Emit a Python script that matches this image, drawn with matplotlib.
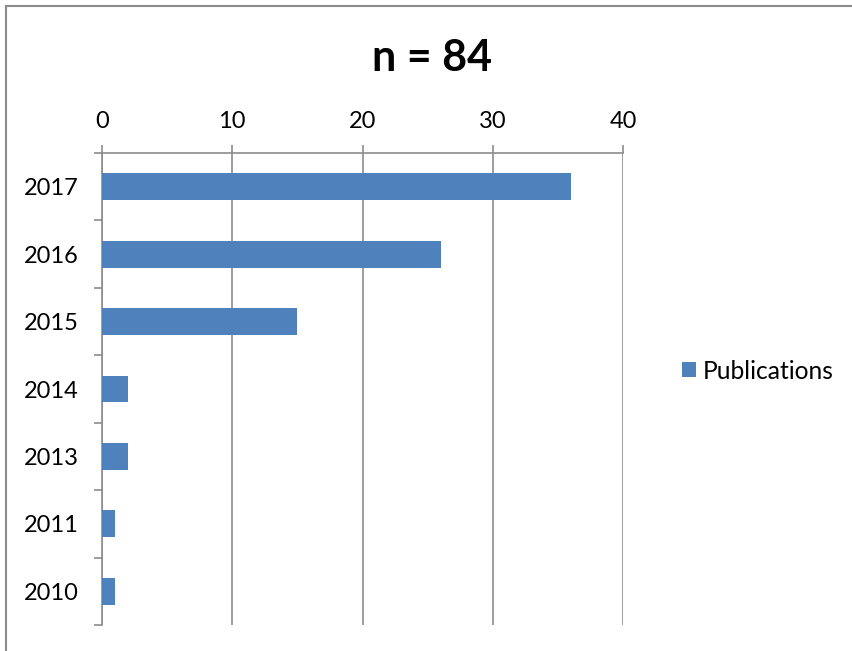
import matplotlib
matplotlib.use("Agg")
import matplotlib.pyplot as plt
from matplotlib.lines import Line2D

years = ["2017", "2016", "2015", "2014", "2013", "2011", "2010"]
publications = [36, 26, 15, 2, 2, 1, 1]
xticks = [0, 10, 20, 30, 40]

plt.rcParams['font.family'] = ['Lato', 'DejaVu Sans']
fig = plt.figure(figsize=(8.52, 6.51), dpi=100)
bx, by = 6/852, 1 - 5.5/651
fig.lines.append(Line2D([bx, 1.0], [by, by], transform=fig.transFigure, color='#8c8c8c', linewidth=1.5))
fig.lines.append(Line2D([bx, bx], [0.0, by], transform=fig.transFigure, color='#8c8c8c', linewidth=1.5))

ax = fig.add_axes([102/852, 26/651, 521/852, 472/651])
ypos = list(range(len(years)))[::-1]
ax.barh(ypos, publications, height=0.4, color='#4F81BD', label='Publications', zorder=3)
ax.set_xlim(0, 40)
ax.set_ylim(-0.5, len(years) - 0.5)
ax.set_yticks(ypos)
ax.set_yticklabels(years)
ax.set_yticks([y - 0.5 for y in range(len(years) + 1)], minor=True)
ax.tick_params(axis='y', which='major', length=0, pad=17, labelsize=17)
ax.tick_params(axis='y', which='minor', length=6, width=1.2, color='#8c8c8c')
ax.xaxis.tick_top()
ax.set_xticks(xticks)
ax.tick_params(axis='x', length=6, width=1.2, color='#8c8c8c', labelsize=17, pad=9)
ax.grid(axis='x', color='#8c8c8c', linewidth=1.2, zorder=0)
for s in ['right', 'bottom']:
    ax.spines[s].set_visible(False)
for s in ['left', 'top']:
    ax.spines[s].set_color('#8c8c8c')
    ax.spines[s].set_linewidth(1.2)

fig.text(432/852, 1 - 58/651, "n = 84", ha='center', va='center', fontsize=31, fontweight='bold')
fig.legend(loc='center left', bbox_to_anchor=(660/852, 1 - 371/651), frameon=False,
           fontsize=17.7, handlelength=0.55, handleheight=0.55, handletextpad=0.3)

fig.savefig("out.png", dpi=100)
